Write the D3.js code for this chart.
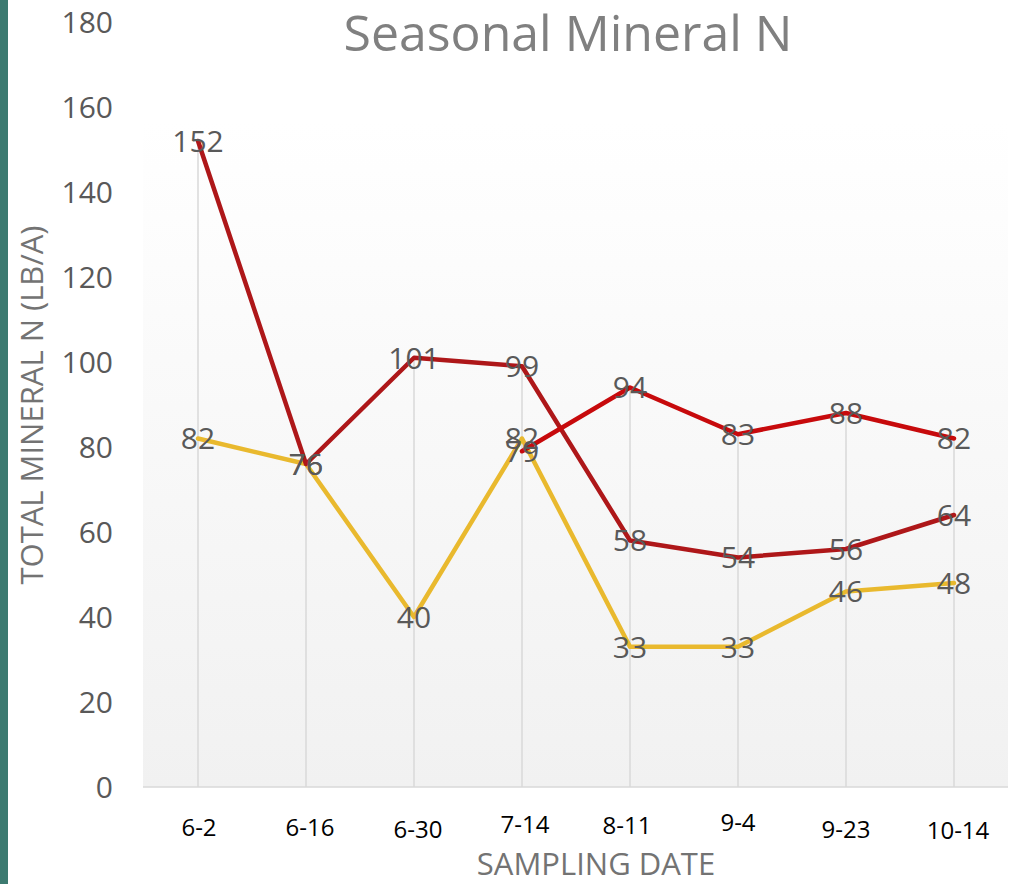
<!DOCTYPE html>
<html lang="en">
<head>
  <meta charset="UTF-8">
  <title>Seasonal Mineral N</title>
  <script src="https://d3js.org/d3.v7.min.js"></script>
  <style>
    body {
      margin: 0;
      background-color: #ffffff;
      overflow: hidden;
    }
    svg {
      display: block;
      font-family: "Open Sans", sans-serif;
    }
  </style>
</head>
<body>
  <script>
    // categories and series
    const dates = ["6-2", "6-16", "6-30", "7-14", "8-11", "9-4", "9-23", "10-14"];
    const seriesA = [152, 76, 101, 99, 58, 54, 56, 64];
    const seriesB = [null, null, null, 79, 94, 83, 88, 82];
    const seriesC = [82, 76, 40, 82, 33, 33, 46, 48];
    const yTicks = [0, 20, 40, 60, 80, 100, 120, 140, 160, 180];

    const width = 1014;
    const height = 884;
    const margin = { top: 22, right: 6, bottom: 97, left: 144 };
    const plotTop = 122; // grey plot area starts below the title

    // category labels sit a little unevenly in the original
    const tickNudge = [[1, 0], [4, 0], [4, 2], [3, -3], [-3, -2], [0, -5], [0, 2], [4, 3]];

    const series = [
      { values: seriesC, color: "#E9B92E" },
      { values: seriesA, color: "#AE1719" },
      { values: seriesB, color: "#C70A0C" }
    ];

    const svg = d3.select("body").append("svg")
        .attr("width", width)
        .attr("height", height);

    // teal strip on the left edge
    svg.append("rect")
        .attr("x", 0).attr("y", 0)
        .attr("width", 8).attr("height", height)
        .attr("fill", "#3C7A70");

    const x = d3.scaleBand()
        .domain(dates)
        .range([margin.left, width - margin.right])
        .padding(0);

    const y = d3.scaleLinear()
        .domain([0, 180])
        .range([height - margin.bottom, margin.top]);

    const cx = d => x(d) + x.bandwidth() / 2;

    // plot area gradient
    const defs = svg.append("defs");
    const grad = defs.append("linearGradient")
        .attr("id", "plotbg")
        .attr("x1", 0).attr("y1", 0).attr("x2", 0).attr("y2", 1);
    grad.append("stop").attr("offset", "0%").attr("stop-color", "#ffffff");
    grad.append("stop").attr("offset", "100%").attr("stop-color", "#f1f1f1");

    svg.append("rect")
        .attr("x", margin.left - 1)
        .attr("y", plotTop)
        .attr("width", width - margin.right - margin.left + 1)
        .attr("height", y(0) - plotTop)
        .attr("fill", "url(#plotbg)");

    // drop lines from the highest point of each date
    svg.append("g")
      .selectAll("line")
      .data(dates)
      .join("line")
        .attr("x1", d => cx(d))
        .attr("x2", d => cx(d))
        .attr("y1", (d, i) => y(d3.max(series, s => s.values[i])))
        .attr("y2", y(0))
        .attr("stroke", "#d9d9d9")
        .attr("stroke-width", 1.5);

    // category axis line
    svg.append("line")
        .attr("x1", margin.left - 1)
        .attr("x2", width - margin.right)
        .attr("y1", y(0))
        .attr("y2", y(0))
        .attr("stroke", "#d9d9d9")
        .attr("stroke-width", 1.5);

    // y axis labels
    const yAxis = svg.append("g")
        .attr("transform", `translate(${margin.left},0)`)
        .call(d3.axisLeft(y).tickValues(yTicks).tickSize(0).tickPadding(31))
        .call(g => g.select(".domain").remove());
    yAxis.attr("font-family", null).attr("font-size", null);
    yAxis.selectAll("text")
        .attr("dy", "0.36em")
        .attr("fill", "#595959")
        .style("font-size", "30px");

    // x axis labels
    const xAxis = svg.append("g")
        .attr("transform", `translate(0,${y(0)})`)
        .call(d3.axisBottom(x).tickSize(0))
        .call(g => g.select(".domain").remove());
    xAxis.attr("font-family", null).attr("font-size", null);
    xAxis.selectAll("text")
        .attr("dy", null)
        .attr("x", (d, i) => tickNudge[i][0])
        .attr("y", (d, i) => 49 + tickNudge[i][1])
        .attr("fill", "#000000")
        .style("font-size", "24px");

    // lines
    const line = d3.line()
        .defined(d => d.v != null)
        .x(d => cx(d.date))
        .y(d => y(d.v));

    svg.append("g")
      .selectAll("path")
      .data(series)
      .join("path")
        .attr("d", s => line(s.values.map((v, i) => ({ date: dates[i], v }))))
        .attr("fill", "none")
        .attr("stroke", s => s.color)
        .attr("stroke-width", 4.5)
        .attr("stroke-linejoin", "round")
        .attr("stroke-linecap", "round");

    // value labels centred on the points
    const points = series.flatMap(s => s.values
        .map((v, i) => ({ date: dates[i], v }))
        .filter(d => d.v != null));

    svg.append("g")
      .selectAll("text")
      .data(points)
      .join("text")
        .attr("x", d => cx(d.date))
        .attr("y", d => y(d.v))
        .attr("dy", "0.36em")
        .attr("text-anchor", "middle")
        .attr("fill", "#595959")
        .style("font-size", "30px")
        .text(d => d.v);

    // titles
    svg.append("text")
        .attr("x", 568)
        .attr("y", 51)
        .attr("text-anchor", "middle")
        .attr("fill", "#808080")
        .style("font-size", "50px")
        .text("Seasonal Mineral N");

    svg.append("text")
        .attr("x", 596)
        .attr("y", 875)
        .attr("text-anchor", "middle")
        .attr("fill", "#737373")
        .style("font-size", "31px")
        .text("SAMPLING DATE");

    svg.append("text")
        .attr("transform", "translate(43,405) rotate(-90)")
        .attr("text-anchor", "middle")
        .attr("fill", "#737373")
        .style("font-size", "31px")
        .text("TOTAL MINERAL N (LB/A)");
  </script>
</body>
</html>
